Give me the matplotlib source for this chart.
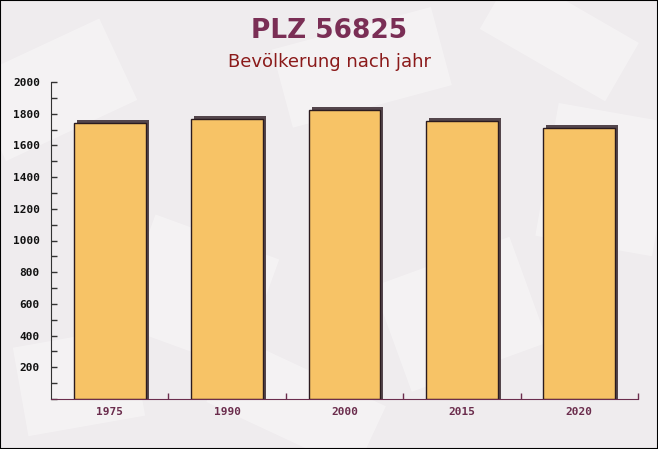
import matplotlib
matplotlib.use("Agg")
import matplotlib.pyplot as plt
import matplotlib.transforms as mtransforms
from matplotlib.patches import Rectangle
from matplotlib.ticker import MultipleLocator, FixedLocator

# data
years = ["1975", "1990", "2000", "2015", "2020"]
population = [1741, 1766, 1823, 1754, 1710]
y_ticks = [200, 400, 600, 800, 1000, 1200, 1400, 1600, 1800, 2000]

BG = "#efecee"
BAR = "#f7c366"
EDGE = "#2b1b1f"
SHADOW = "#54464c"
PURPLE = "#6b2d4d"
W, H = 658, 449

fig = plt.figure(figsize=(W / 100, H / 100), dpi=100)
fig.patch.set_facecolor(BG)

# faint envelope-like shapes in the background (decoration only)
shapes = [(0.08, 0.80, 0.22, 0.20, 25), (0.30, 0.35, 0.20, 0.26, -20),
          (0.55, 0.85, 0.25, 0.18, 15), (0.70, 0.30, 0.22, 0.25, 20),
          (0.92, 0.60, 0.18, 0.30, -10), (0.45, 0.10, 0.25, 0.16, -25),
          (0.12, 0.15, 0.18, 0.20, 10), (0.85, 0.92, 0.22, 0.15, -30)]
for (cx, cy, w, h, ang) in shapes:
    tr = mtransforms.Affine2D().rotate_deg_around(cx * W, cy * H, ang)
    r = Rectangle(((cx - w / 2) * W, (cy - h / 2) * H), w * W, h * H,
                  facecolor="white", edgecolor="none", alpha=0.35,
                  zorder=-5, transform=tr)
    fig.patches.append(r)

ax = fig.add_axes([51 / W, 1 - 399 / H, 587 / W, (399 - 82) / H])
ax.set_facecolor("none")
ax.set_zorder(1)

x = list(range(len(years)))

# shadow: same bars shifted 3 px right and up, drawn from below the axis
shadow_tr = mtransforms.offset_copy(ax.transData, fig=fig, x=3, y=3, units="dots")
ax.bar(x, [v + 100 for v in population], bottom=-100, width=0.61,
       color=SHADOW, edgecolor="none", transform=shadow_tr, zorder=2)
ax.bar(x, population, width=0.61, color=BAR, edgecolor=EDGE,
       linewidth=1.0, zorder=3)

ax.set_xlim(-0.5, len(years) - 0.5)
ax.set_ylim(0, 2000)

# y axis: labels every 200, small ticks every 100
ax.yaxis.set_major_locator(FixedLocator(y_ticks))
ax.yaxis.set_minor_locator(MultipleLocator(100))
ax.tick_params(axis="y", which="both", direction="in", length=4,
               width=1, color="#333333", pad=8)
for lab in ax.get_yticklabels():
    lab.set_fontfamily("DejaVu Sans Mono")
    lab.set_fontweight("bold")
    lab.set_fontsize(8)
    lab.set_color("#111111")

# x axis: labels at centres, tick marks between categories
ax.set_xticks(x)
ax.set_xticklabels(years, family="DejaVu Sans Mono", fontweight="bold",
                   fontsize=8, color=PURPLE)
ax.xaxis.set_minor_locator(FixedLocator([i + 0.5 for i in x]))
ax.tick_params(axis="x", which="major", length=0, pad=6)
ax.tick_params(axis="x", which="minor", direction="in", length=4,
               width=1, color=PURPLE)

for s in ["top", "right"]:
    ax.spines[s].set_visible(False)
ax.spines["left"].set_color("#333333")
ax.spines["bottom"].set_color(PURPLE)
ax.spines["bottom"].set_zorder(4)

fig.text(0.5, 1 - 31 / H, "PLZ 56825", ha="center", va="center",
         fontsize=19, fontweight="bold", color="#7a2e55")
fig.text(0.5, 1 - 62 / H, "Bevölkerung nach jahr", ha="center",
         va="center", fontsize=13, color="#8b1a1a")

# thin frame round the picture
fig.patches.append(Rectangle((0, 0), 1, 1, transform=fig.transFigure,
                             fill=False, edgecolor="black", linewidth=1.5,
                             zorder=10))

fig.savefig("out.png", dpi=100, facecolor=BG)
